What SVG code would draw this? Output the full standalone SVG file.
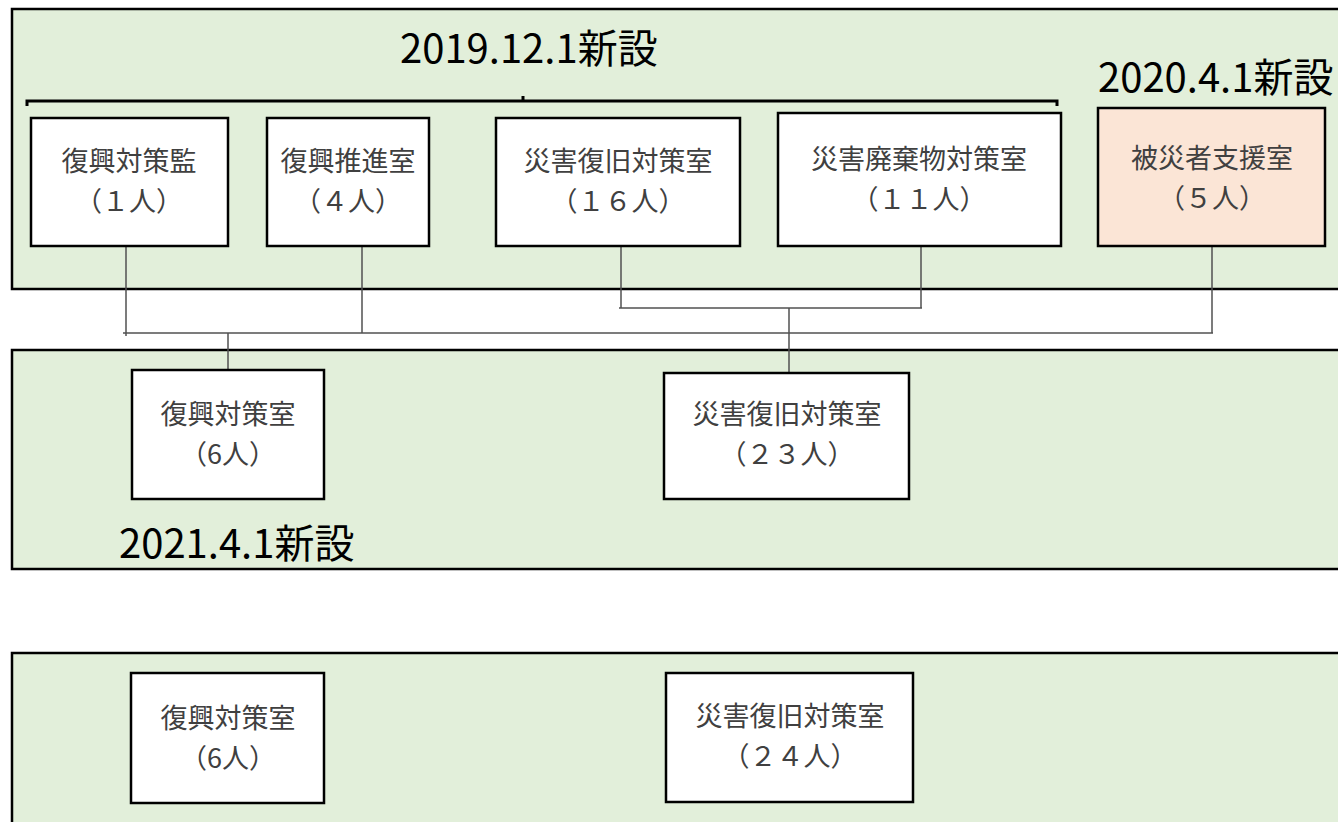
<svg xmlns="http://www.w3.org/2000/svg" width="1338" height="822" viewBox="0 0 1338 822">
<style>
.panel{fill:#E2EFDA;stroke:#000;stroke-width:2.5}
.box{fill:#fff;stroke:#000;stroke-width:2.5}
.box.peach{fill:#FBE5D6}
.lbl{font-family:"Noto Sans CJK JP","Noto Sans",sans-serif;font-size:27px;fill:#404040;text-anchor:middle}
.title{font-family:"Noto Sans CJK JP","Noto Sans",sans-serif;font-size:40px;fill:#000}
.conn{fill:none;stroke:#505050;stroke-width:1.5}
.brace{fill:none;stroke:#000;stroke-width:3}
</style>
<rect width="1338" height="822" fill="#fff"/>
<g id="panels">
<rect class="panel" x="12" y="9" width="1340" height="280"/>
<rect class="panel" x="12" y="350" width="1340" height="219"/>
<rect class="panel" x="12" y="653" width="1340" height="200"/>
</g>
<g id="titles">
<text class="title" x="400" y="63">2019.12.1新設</text>
<text class="title" x="1098" y="92">2020.4.1新設</text>
<text class="title" x="119" y="558">2021.4.1新設</text>
</g>
<g id="bracket">
<path class="brace" d="M27,106 V101 H1057 V106"/>
<path class="brace" d="M523,96 V101"/>
</g>
<g id="connectors">
<path class="conn" d="M126,246 V336"/>
<path class="conn" d="M362,246 V333"/>
<path class="conn" d="M621,246 V308"/>
<path class="conn" d="M921,246 V308"/>
<path class="conn" d="M619,308 H922"/>
<path class="conn" d="M789,308 V372"/>
<path class="conn" d="M123,333 H1213"/>
<path class="conn" d="M1212,246 V333"/>
<path class="conn" d="M228,333 V370"/>
</g>
<g id="n1">
<rect class="box" x="31" y="118" width="197" height="128"/>
<text class="lbl" x="129" y="171">復興対策監<tspan x="129" dy="39.5">（１人）</tspan></text>
</g>
<g id="n2">
<rect class="box" x="267" y="118" width="162" height="128"/>
<text class="lbl" x="348" y="171">復興推進室<tspan x="348" dy="39.5">（４人）</tspan></text>
</g>
<g id="n3">
<rect class="box" x="496" y="118" width="244" height="128"/>
<text class="lbl" x="618" y="171">災害復旧対策室<tspan x="618" dy="39.5">（１６人）</tspan></text>
</g>
<g id="n4">
<rect class="box" x="778" y="113" width="283" height="133"/>
<text class="lbl" x="919" y="169">災害廃棄物対策室<tspan x="919" dy="39.5">（１１人）</tspan></text>
</g>
<g id="n5">
<rect class="box peach" x="1098" y="108" width="227" height="138"/>
<text class="lbl" x="1212" y="168">被災者支援室<tspan x="1212" dy="39.5">（５人）</tspan></text>
</g>
<g id="n6">
<rect class="box" x="132" y="370" width="192" height="129"/>
<text class="lbl" x="228" y="424">復興対策室<tspan x="228" dy="39.5">（6人）</tspan></text>
</g>
<g id="n7">
<rect class="box" x="664" y="373" width="245" height="126"/>
<text class="lbl" x="787" y="424">災害復旧対策室<tspan x="787" dy="39.5">（２３人）</tspan></text>
</g>
<g id="n8">
<rect class="box" x="131" y="673" width="193" height="130"/>
<text class="lbl" x="228" y="728">復興対策室<tspan x="228" dy="39.5">（6人）</tspan></text>
</g>
<g id="n9">
<rect class="box" x="666" y="673" width="247" height="129"/>
<text class="lbl" x="790" y="726">災害復旧対策室<tspan x="790" dy="39.5">（２４人）</tspan></text>
</g>
</svg>
